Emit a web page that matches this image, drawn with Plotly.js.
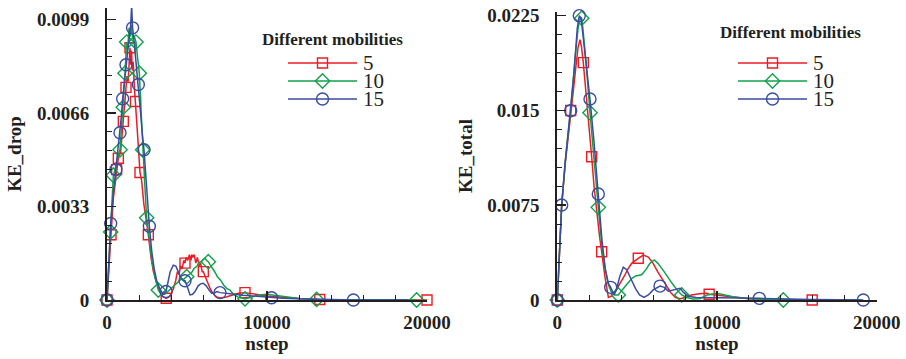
<!DOCTYPE html>
<html>
<head>
<meta charset="utf-8">
<script src="https://cdn.plot.ly/plotly-3.0.1.min.js"></script>
<style>
  html, body { margin: 0; padding: 0; background: #ffffff; }
  #chart { width: 906px; height: 359px; }
</style>
</head>
<body>
<div id="chart"></div>
<script>
// ---- Kinetic energy of the drop (left panel) ----
const dropSteps5 = [0,100,250,400,600,708,850,1021,1100,1187,1250,1320,1380,1437,1480,1530,1580,1640,1700,1780,1850,1950,2062,2167,2300,2450,2583,2750,2900,3100,3300,3500,3700,3850,4000,4150,4300,4400,4500,4600,4700,4800,4875,4950,5050,5150,5250,5300,5350,5450,5550,5650,5750,5850,5950,6020,6150,6300,6450,6600,6750,6900,7100,7400,7800,8200,8625,9000,9500,10000,11000,12000,13300,15000,17000,20000];
const dropValues5 = [0,0.0011,0.0023,0.0036,0.0046,0.0050,0.0052,0.0063,0.0071,0.0075,0.0079,0.0077,0.0085,0.0089,0.0083,0.0088,0.0081,0.0084,0.0076,0.0070,0.0064,0.0055,0.0045,0.0042,0.0034,0.0029,0.0023,0.0015,0.0010,0.0006,0.0003,0.00012,0.00006,0.0001,0.0002,0.0004,0.0007,0.0010,0.0009,0.0012,0.0011,0.0014,0.0013,0.0015,0.0014,0.0016,0.0014,0.0016,0.0015,0.0016,0.0013,0.0015,0.0012,0.0013,0.0010,0.0010,0.0008,0.0006,0.0004,0.00025,0.00015,0.0001,0.00007,0.0001,0.00018,0.00024,0.00026,0.00022,0.00018,0.00014,0.0001,0.00005,0.00002,0.00001,0,0];
const dropMarkers5 = [0,250,600,708,1021,1187,1437,1780,2062,2583,3700,4875,6020,8625,13300,20000];

const dropSteps10 = [0,100,230,396,500,650,812,920,1021,1125,1229,1300,1380,1450,1520,1600,1700,1812,1900,2020,2120,2229,2350,2479,2650,2800,3000,3208,3400,3600,3800,4000,4200,4400,4600,4800,4979,5150,5300,5450,5600,5750,5900,6000,6125,6250,6333,6450,6600,6750,6900,7100,7300,7500,7687,7900,8200,8625,9000,9500,10000,10500,11000,12000,13100,16000,19350];
const dropValues10 = [0,0.0010,0.0024,0.0044,0.0046,0.0050,0.0053,0.0062,0.0068,0.0080,0.0091,0.0089,0.0096,0.0093,0.0097,0.0092,0.0093,0.0091,0.0086,0.0080,0.0068,0.0053,0.0042,0.0029,0.0020,0.0014,0.0008,0.00035,0.0002,0.0002,0.0003,0.0004,0.00052,0.0006,0.00072,0.00074,0.00082,0.00092,0.00098,0.00112,0.00118,0.00132,0.00136,0.00143,0.00147,0.00138,0.00135,0.00124,0.00112,0.00098,0.00082,0.0007,0.00052,0.0004,0.00035,0.0002,0.0001,0.00004,0.0001,0.00018,0.0002,0.00016,0.00012,0.00005,0.00002,0,0];
const dropMarkers10 = [0,230,396,812,1021,1125,1229,1812,2020,2229,2479,3208,4979,6333,8625,13100,19350];

const dropSteps15 = [0,100,230,400,562,700,812,900,979,1080,1187,1300,1400,1480,1540,1600,1680,1750,1850,1958,2100,2200,2312,2450,2550,2646,2800,2950,3100,3300,3500,3688,3800,3950,4146,4300,4450,4600,4750,4875,5000,5100,5187,5350,5500,5700,5850,6020,6200,6380,6540,6700,6880,7062,7300,7600,8000,8500,9000,9600,10290,11000,12000,13500,15400,18800];
const dropValues15 = [0,0.0013,0.0027,0.0038,0.0046,0.0053,0.0059,0.0065,0.0071,0.0077,0.0083,0.0088,0.0093,0.0097,0.0104,0.0096,0.0092,0.0088,0.0082,0.0076,0.0066,0.0059,0.0053,0.0042,0.0033,0.0026,0.0017,0.0011,0.0007,0.0004,0.0002,0.0003,0.0006,0.0010,0.00123,0.0012,0.0010,0.0008,0.0007,0.00068,0.0005,0.0003,0.00018,0.0002,0.0003,0.0005,0.00057,0.00059,0.0005,0.00035,0.00024,0.00025,0.0003,0.00026,0.00024,0.00022,0.0002,0.00017,0.00015,0.0001,0.00008,0.00006,0.00004,0.00002,0,0];
const dropMarkers15 = [0,230,562,812,979,1187,1600,1958,2312,2646,3688,4875,7062,10290,15400];

// ---- Total kinetic energy (right panel) ----
const totalSteps5 = [0,150,275,500,837,1000,1150,1300,1421,1520,1628,1800,1950,2152,2300,2500,2650,2779,2986,3200,3400,3600,3900,4200,4400,4655,5070,5383,5700,6000,6300,6600,6850,7100,7400,7700,8000,8400,8900,9350,9510,9900,10400,11000,12000,13500,15960,19000];
const totalValues5 = [0,0.0040,0.0075,0.0108,0.0150,0.0165,0.0183,0.0200,0.0206,0.0200,0.01878,0.0165,0.0145,0.01134,0.0090,0.0065,0.0050,0.00382,0.0018,0.0002,0.0003,0.0006,0.0012,0.0019,0.0024,0.0029,0.0033,0.00356,0.0034,0.0029,0.0022,0.0016,0.0011,0.0006,0.0002,0.0001,0.0002,0.0004,0.0005,0.00053,0.00045,0.0004,0.0003,0.0002,0.0001,0.00005,0,0];
const totalMarkers5 = [0,837,1628,2152,2779,5070,9510,15960];

const totalSteps10 = [0,150,275,500,837,1100,1300,1463,1530,1600,1800,2047,2300,2567,2800,3000,3200,3400,3600,3820,4000,4300,4655,4900,5280,5550,5800,6070,6300,6600,6950,7200,7500,7790,8100,8500,8900,9400,9980,10500,11000,12000,13000,14150,19000];
const totalValues10 = [0,0.0040,0.0075,0.0110,0.0150,0.0190,0.0215,0.0224,0.0223,0.0215,0.0188,0.01482,0.0110,0.00733,0.0042,0.0024,0.0012,0.0006,0.0004,0.0004,0.0007,0.0012,0.0017,0.0019,0.0020,0.0024,0.0029,0.00317,0.0029,0.0024,0.0017,0.0013,0.0008,0.0004,0.0002,0.00008,0.0001,0.0004,0.00053,0.0004,0.00025,0.0001,0.00004,0,0];
const totalMarkers10 = [0,1530,2047,2567,3820,7790,14150];

const totalSteps15 = [0,150,275,500,837,1050,1250,1377,1500,1700,2047,2300,2567,2800,3000,3200,3343,3450,3550,3700,3900,4132,4350,4600,4900,5150,5427,5700,6000,6430,6700,6950,7300,7680,7900,8200,8700,9500,10500,11500,12650,14000,16000,19160];
const totalValues15 = [0,0.0040,0.00752,0.0110,0.01498,0.0180,0.0215,0.0225,0.0222,0.0200,0.0159,0.0125,0.00839,0.0047,0.0025,0.0013,0.0010,0.0006,0.0004,0.0008,0.0018,0.00259,0.0024,0.0017,0.0009,0.0004,0.0002,0.0004,0.0008,0.0011,0.0010,0.0007,0.0008,0.00092,0.0006,0.0003,0.0002,0.0002,0.00018,0.00015,0.00013,0.00008,0.00003,0];
const totalMarkers15 = [0,275,837,1377,2047,2567,3343,6430,12650,19160];

// Legend entries
const mobilities = ['5', '10', '15'];
const legendTitle = 'Different mobilities';

// ---- Styling ----
const W = 906, H = 359;
const px = x => x / W;           // pixel column -> paper fraction
const py = y => 1 - y / H;       // pixel row -> paper fraction
const serif = '"Liberation Serif", "Times New Roman", Times, serif';
const ink = '#231f20';
const colors = ['#ec1c24', '#12a14b', '#3a4ca1'];
const symbols = ['square-open', 'diamond-open', 'circle-open'];
const sizes = [10, 11, 12];

function series(steps, values, markerSteps, k, xa, ya) {
  const keep = new Set(markerSteps);
  const mx = [], my = [];
  steps.forEach((s, i) => { if (keep.has(s)) { mx.push(s); my.push(values[i]); } });
  return [
    { x: steps, y: values, xaxis: xa, yaxis: ya, mode: 'lines', showlegend: false,
      line: { color: colors[k], width: 1.5 }, hoverinfo: 'skip' },
    { x: mx, y: my, xaxis: xa, yaxis: ya, mode: 'markers', showlegend: false, cliponaxis: false,
      marker: { symbol: symbols[k], size: sizes[k], color: colors[k], line: { color: colors[k], width: 1.4 } } }
  ];
}

// One legend block: sample line with its symbol, drawn on hidden axes
function legendTraces(xa, ya) {
  return mobilities.map((m, k) => ({
    x: [0, 0.5, 1], y: [k, k, k], xaxis: xa, yaxis: ya,
    mode: 'lines+markers', showlegend: false, cliponaxis: false, hoverinfo: 'skip',
    line: { color: colors[k], width: 1.5 },
    marker: { symbol: symbols[k], size: sizes[k], color: colors[k], opacity: [0, 1, 0],
              line: { color: colors[k], width: 1.4 } }
  }));
}
// Legend labels, anchored just right of each sample line
function legendLabels(xa, ya) {
  return mobilities.map((m, k) => ({
    text: m, xref: xa, yref: ya, x: 1, y: k, xanchor: 'left', yanchor: 'middle',
    xshift: 4, showarrow: false, font: { family: serif, size: 21, color: ink }
  }));
}

const traces = [].concat(
  series(dropSteps5, dropValues5, dropMarkers5, 0, 'x', 'y'),
  series(dropSteps10, dropValues10, dropMarkers10, 1, 'x', 'y'),
  series(dropSteps15, dropValues15, dropMarkers15, 2, 'x', 'y'),
  series(totalSteps5, totalValues5, totalMarkers5, 0, 'x2', 'y2'),
  series(totalSteps10, totalValues10, totalMarkers10, 1, 'x2', 'y2'),
  series(totalSteps15, totalValues15, totalMarkers15, 2, 'x2', 'y2'),
  legendTraces('x3', 'y3'),
  legendTraces('x4', 'y4')
);

const tickFont = { family: serif, size: 19, color: ink, weight: 'bold' };
const titleFont = { family: serif, size: 19, color: ink, weight: 'bold' };

function xAxis(domain, anchor) {
  return {
    domain, anchor, range: [0, 20000], dtick: 10000, tick0: 0,
    tickformat: 'd', exponentformat: 'none',
    showline: true, linecolor: ink, linewidth: 2, zeroline: false, showgrid: false,
    ticks: 'inside', ticklen: 9, tickwidth: 1.5, tickcolor: ink,
    minor: { dtick: 2000, ticks: 'inside', ticklen: 5, tickwidth: 1, tickcolor: ink },
    tickfont: tickFont, ticklabelstandoff: 4, fixedrange: true,
    title: { text: 'nstep', font: titleFont, standoff: 2 }
  };
}
function yAxis(domain, anchor, top, step, title) {
  return {
    domain, anchor, range: [0, top], dtick: step, tick0: 0,
    showline: true, linecolor: ink, linewidth: 2, zeroline: false, showgrid: false,
    ticks: 'inside', ticklen: 9, tickwidth: 1.5, tickcolor: ink,
    minor: { dtick: step / 5, ticks: 'inside', ticklen: 5, tickwidth: 1, tickcolor: ink },
    tickfont: tickFont, ticklabelstandoff: 12, fixedrange: true,
    title: { text: title, font: titleFont, standoff: 10 }
  };
}
const hidden = (domain, range) => ({ domain, range, visible: false, fixedrange: true });

const titleNote = (x, y) => ({
  text: legendTitle, xref: 'paper', yref: 'paper', x: px(x), y: py(y),
  xanchor: 'center', yanchor: 'middle', showarrow: false,
  font: { family: serif, size: 17, color: ink, weight: 'bold' }
});

const layout = {
  width: W, height: H,
  margin: { l: 0, r: 0, t: 0, b: 0 },
  paper_bgcolor: '#ffffff', plot_bgcolor: '#ffffff',
  showlegend: false,
  xaxis: xAxis([px(107), px(427)], 'y'),
  yaxis: yAxis([py(300), py(8)], 'x', 0.0103, 0.0033, 'KE_drop'),
  xaxis2: xAxis([px(557.3), px(876.7)], 'y2'),
  yaxis2: yAxis([py(300), py(12)], 'x2', 0.02279, 0.0075, 'KE_total'),
  xaxis3: hidden([px(288), px(357)], [0, 1]),
  yaxis3: hidden([py(108), py(54)], [2.5, -0.5]),
  xaxis4: hidden([px(738), px(807)], [0, 1]),
  yaxis4: hidden([py(108), py(54)], [2.5, -0.5]),
  annotations: [titleNote(332, 40), titleNote(790, 33)]
    .concat(legendLabels('x3', 'y3'), legendLabels('x4', 'y4'))
};

Plotly.newPlot('chart', traces, layout, { staticPlot: true, displayModeBar: false });
</script>
</body>
</html>
